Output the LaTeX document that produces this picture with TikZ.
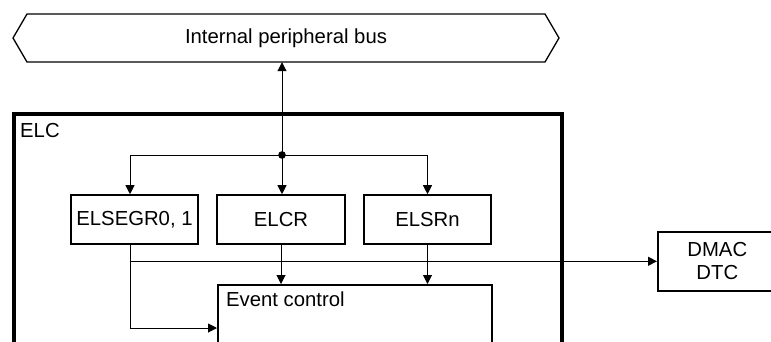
\documentclass[tikz,border=0pt]{standalone}
\usepackage{fontspec}
\setmainfont{Liberation Sans}
\usetikzlibrary{arrows.meta,calc}
\begin{document}
\begin{tikzpicture}[x=1pt,y=-1pt,
  every node/.style={font=\fontsize{20.3}{23}\selectfont, inner sep=0pt},
  reg/.style={draw, line width=1.6pt, minimum width=127pt, minimum height=49pt},
  conn/.style={line width=1pt, -{Triangle[length=9pt,width=9pt]}},
  plain/.style={line width=1pt}]
\useasboundingbox (0,0) rectangle (771,341);
\clip (0,0) rectangle (771,341);
% bus
\draw[line width=1.3pt] (13,38) -- (27,14) -- (545,14) -- (559,38) -- (545,62) -- (27,62) -- cycle;
\node[minimum width=518pt, minimum height=48pt] (bus) at (286,38) {Internal peripheral bus};
% ELC container
\node[draw, line width=3.5pt, anchor=north west, minimum width=548pt, minimum height=320pt] (elc) at (12,112) {};
\node[anchor=base west] (elclbl) at (20,137) {ELC};
% registers
\node[reg] (elsegr) at (134.5,219.5) {ELSEGR0, 1};
\node[reg, minimum width=128pt] (elcr) at (281,219.5) {ELCR};
\node[reg] (elsrn) at (427.5,219.5) {ELSRn};
% event control
\node[draw, line width=1.6pt, anchor=north west, minimum width=274pt, minimum height=120pt] (evt) at (217,284) {};
\node[anchor=base west] (evtlbl) at (226,306) {Event control};
% DMAC/DTC
\node[draw, line width=1.6pt, anchor=north west, minimum width=119pt, minimum height=59pt, align=center] (dmac) at (657,231) {DMAC\\DTC};
% connectors
\coordinate (j) at (282,155);
\fill (j) circle (3.8pt);
\draw[conn] (j) -- (j |- bus.south);
\coordinate (en) at ([xshift=-4.5pt]elsegr.north);
\coordinate (es) at ([xshift=-4.5pt]elsegr.south);
\draw[conn] (j) -| (en);
\draw[conn] (j) -- (j |- elcr.north);
\draw[conn] (j) -| (elsrn.north);
\draw[conn] (elcr.south) -- (elcr.south |- evt.north);
\draw[conn] (elsrn.south) -- (elsrn.south |- evt.north);
\coordinate (ein) at ($(evt.north west)+(0,44)$);
\draw[conn] (es) |- (ein);
\draw[conn] (es |- dmac.west) -- (dmac.west);
\end{tikzpicture}
\end{document}
